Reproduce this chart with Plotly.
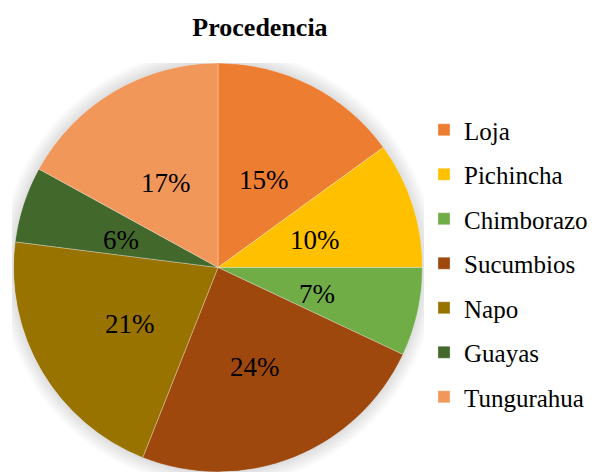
import math
import plotly.graph_objs as go

labels = ['Loja', 'Pichincha', 'Chimborazo', 'Sucumbios', 'Napo', 'Guayas', 'Tungurahua']
values = [15, 10, 7, 24, 21, 6, 17]
colors = ['#ED7D31', '#FFC000', '#70AD47', '#9E480E', '#997300', '#43682B', '#F1975A']

FONT = 'Liberation Serif'

# slice angles (clockwise from 12 o'clock) taken from the shares
total = sum(values)
widths = [v / total * 360 for v in values]
mids = []
start = 0
for w in widths:
    mids.append(start + w / 2)
    start += w

# empty cartesian trace so the shadow shapes have a subplot to sit in
traces = [go.Scatter(x=[None], y=[None], showlegend=False, hoverinfo='skip')]

for name, col, mid, w in zip(labels, colors, mids, widths):
    traces.append(go.Barpolar(
        r=[1],
        theta=[mid],
        width=[w],
        name=name,
        legendgroup=name,
        marker=dict(
            color=col,
            line=dict(color='rgba(255,255,255,0.5)', width=0.6),
            ),
        hoverinfo='name',
        ))

# percentage labels, halfway out along each slice
annotations = []
for v, mid in zip(values, mids):
    annotations.append(dict(
        x=0.5 * math.sin(math.radians(mid)),
        y=0.5 * math.cos(math.radians(mid)),
        xref='x',
        yref='y',
        yshift=-4,
        text=f'{v}%',
        showarrow=False,
        font=dict(family=FONT, size=27, color='black'),
        ))

# soft shadow around the pie
shapes = []
for k in range(8):
    rr = 1.0 + 0.009 * (k + 1)
    shapes.append(dict(
        type='circle',
        xref='x',
        yref='y',
        x0=-rr, x1=rr, y0=-rr, y1=rr,
        line=dict(width=0),
        fillcolor='rgba(0,0,0,0.016)',
        layer='below',
        ))

W, H = 595, 474
L, R, T, B = 12, 169, 63, 2
half_w = (W - L - R) / (H - T - B)

layout = go.Layout(
    width=W,
    height=H,
    margin=dict(l=L, r=R, t=T, b=B),
    paper_bgcolor='white',
    plot_bgcolor='rgba(0,0,0,0)',
    font=dict(family=FONT, color='black'),
    title=dict(
        text='<b>Procedencia</b>',
        font=dict(family=FONT, size=26, color='black'),
        x=260 / W,
        xanchor='center',
        y=1 - 27 / H,
        yanchor='middle',
        ),
    xaxis=dict(range=[-half_w, half_w], visible=False, fixedrange=True),
    yaxis=dict(range=[-1, 1], visible=False, fixedrange=True),
    polar=dict(
        bgcolor='rgba(0,0,0,0)',
        bargap=0,
        hole=0,
        radialaxis=dict(range=[0, 1], visible=False),
        angularaxis=dict(rotation=90, direction='clockwise', visible=False),
        ),
    annotations=annotations,
    shapes=shapes,
    legend=dict(
        xref='container',
        yref='container',
        x=424 / W,
        xanchor='left',
        y=1 - 107 / H,
        yanchor='top',
        maxheight=420,
        font=dict(family=FONT, size=25, color='black'),
        tracegroupgap=9,
        itemwidth=30,
        bgcolor='rgba(0,0,0,0)',
        ),
    )

fig = go.Figure(data=traces, layout=layout)
fig.write_html(
    'out.html',
    config={'displayModeBar': False},
    post_script="document.body.style.margin='0';",
    )
